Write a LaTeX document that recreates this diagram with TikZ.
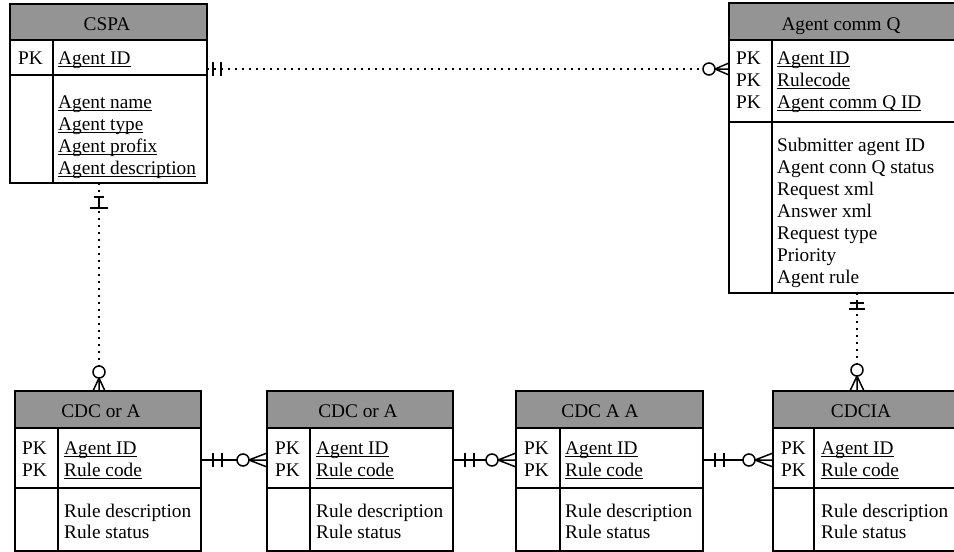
\documentclass[tikz,border=0pt]{standalone}
\usepackage{fontspec}
\setmainfont{Liberation Serif}
\usetikzlibrary{calc}

% underline sitting just under the baseline
\newcommand\ulx[1]{\setbox0\hbox{#1}\rlap{\rule[-2.6pt]{\wd0}{0.9pt}}\box0}

% entity table: name, x1, y1, x2, y2, header bottom, key-row bottom, divider x
\newcommand\erbox[8]{%
  \node[boxshape, anchor=north west, minimum width={#4-#2}, minimum height={#5-#3}] (#1) at (#2,#3) {};
  \fill[hdrfill] (#1.north west) rectangle (#4,#6);
  \draw[frame] (#2,#6) -- (#4,#6) (#2,#7) -- (#4,#7) (#8,#6) -- (#8,#5);
  \draw[frame] (#1.north west) rectangle (#1.south east);
}

% solid one-to-many link between two side-by-side tables
\newcommand\sidelink[2]{%
  \draw[link] (#1) -- ($(#2)+(-30,0)$);
  \draw[link] ($(#1)+(12,-7)$) -- ($(#1)+(12,7)$) ($(#1)+(21,-7)$) -- ($(#1)+(21,7)$);
  \draw[ring] ($(#2)+(-24,0)$) circle (6);
  \draw[link] ($(#2)+(-18,0)$) -- (#2) ($(#2)+(-18,0)$) -- ($(#2)+(0,-7)$) ($(#2)+(-18,0)$) -- ($(#2)+(0,7)$);
}

\begin{document}
\begin{tikzpicture}[x=1pt,y=-1pt,
  frame/.style={line width=1.8pt},
  hdrfill/.style={fill=black!42},
  boxshape/.style={rectangle, inner sep=0pt, outer sep=0pt},
  lbl/.style={font=\fontsize{19.3}{22}\selectfont, inner sep=0pt, anchor=base west},
  title/.style={lbl, anchor=base},
  link/.style={line width=1.5pt},
  dotlink/.style={line width=1.8pt, dash pattern=on 1.8pt off 5.2pt},
  ring/.style={line width=1.5pt, fill=white},
]
\useasboundingbox (0,0) rectangle (954,552);

% ---------- tables ----------
\erbox{cspa}{10}{4}{207}{183}{40}{75}{53}
\erbox{acq}{729}{3}{957}{293}{40}{122}{772}
\erbox{cdcA}{15}{391}{201}{551}{428}{488}{58}
\erbox{cdcB}{267}{391}{453}{551}{428}{488}{310}
\erbox{cdcC}{516}{391}{703}{551}{428}{488}{560}
\erbox{cdcD}{773}{391}{960}{551}{428}{488}{814}

% CSPA
\node[title] (cspaT) at (107,30) {CSPA};
\node[lbl] (cspaK) at (18,64) {PK};
\node[lbl] (cspa1) at (58,64) {\ulx{Agent ID}};
\node[lbl] (cspa2) at (58,108) {\ulx{Agent name}};
\node[lbl] (cspa3) at (58,130) {\ulx{Agent type}};
\node[lbl] (cspa4) at (58,152) {\ulx{Agent profix}};
\node[lbl] (cspa5) at (58,174) {\ulx{Agent description}};

% Agent comm Q
\node[title] (acqT) at (841,30) {Agent comm Q};
\node[lbl] (acqK1) at (736,64) {PK};
\node[lbl] (acqK2) at (736,86) {PK};
\node[lbl] (acqK3) at (736,108) {PK};
\node[lbl] (acq1) at (777,64) {\ulx{Agent ID}};
\node[lbl] (acq2) at (777,86) {\ulx{Rulecode}};
\node[lbl] (acq3) at (777,108) {\ulx{Agent comm Q ID}};
\node[lbl] (acq4) at (777,151) {Submitter agent ID};
\node[lbl] (acq5) at (777,173) {Agent conn Q status};
\node[lbl] (acq6) at (777,195) {Request xml};
\node[lbl] (acq7) at (777,217) {Answer xml};
\node[lbl] (acq8) at (777,239) {Request type};
\node[lbl] (acq9) at (777,261) {Priority};
\node[lbl] (acq10) at (777,283) {Agent rule};

% lower row of tables
\foreach \n/\t/\cx/\kx/\vx in {cdcA/CDC or A/101/22/64, cdcB/CDC or A/358/275/316, cdcC/CDC A A/600/524/565, cdcD/CDCIA/861/781/821}{
  \node[title] (\n T) at (\cx,417) {\t};
  \node[lbl] (\n K1) at (\kx,454) {PK};
  \node[lbl] (\n K2) at (\kx,476) {PK};
  \node[lbl] (\n 1) at (\vx,454) {\ulx{Agent ID}};
  \node[lbl] (\n 2) at (\vx,476) {\ulx{Rule code}};
  \node[lbl] (\n 3) at (\vx,517) {Rule description};
  \node[lbl] (\n 4) at (\vx,538) {Rule status};
}

% ---------- relationships ----------
% CSPA -- Agent comm Q
\coordinate (p1) at (cspa.east |- 0,69);
\coordinate (q1) at (acq.west |- 0,69);
\draw[dotlink] (p1) -- ($(q1)+(-26,0)$);
\draw[link] ($(p1)+(6,-7)$) -- ($(p1)+(6,7)$) ($(p1)+(14,-7)$) -- ($(p1)+(14,7)$);
\draw[ring] ($(q1)+(-20,0)$) circle (6);
\draw[link] ($(q1)+(-14,0)$) -- (q1) ($(q1)+(-14,0)$) -- ($(q1)+(0,-6)$) ($(q1)+(-14,0)$) -- ($(q1)+(0,6)$);

% CSPA -- CDC or A
\coordinate (p2) at (cspa.south -| 99,0);
\coordinate (q2) at (cdcA.north -| 99,0);
\draw[dotlink] (p2) -- ($(q2)+(0,-25)$);
\draw[link] ($(p2)+(0,14)$) -- ($(p2)+(0,25)$);
\draw[link] ($(p2)+(-5,14)$) -- ($(p2)+(5,14)$) ($(p2)+(-9,25)$) -- ($(p2)+(9,25)$);
\draw[ring] ($(q2)+(0,-19)$) circle (6);
\draw[link] ($(q2)+(0,-13)$) -- (q2) ($(q2)+(0,-13)$) -- ($(q2)+(-6,0)$) ($(q2)+(0,-13)$) -- ($(q2)+(6,0)$);

% Agent comm Q -- CDCIA
\coordinate (p3) at (acq.south -| 857,0);
\coordinate (q3) at (cdcD.north -| 857,0);
\draw[dotlink] (p3) -- ($(q3)+(0,-27)$);
\draw[link] ($(p3)+(0,10)$) -- ($(p3)+(0,16)$);
\draw[link] ($(p3)+(-7,10)$) -- ($(p3)+(7,10)$) ($(p3)+(-8,16)$) -- ($(p3)+(8,16)$);
\draw[ring] ($(q3)+(0,-21)$) circle (6);
\draw[link] ($(q3)+(0,-15)$) -- (q3) ($(q3)+(0,-15)$) -- ($(q3)+(-7,0)$) ($(q3)+(0,-15)$) -- ($(q3)+(7,0)$);

% lower row links
\coordinate (a1) at (cdcA.east |- 0,460);
\coordinate (b1) at (cdcB.west |- 0,460);
\coordinate (a2) at (cdcB.east |- 0,460);
\coordinate (b2) at (cdcC.west |- 0,460);
\coordinate (a3) at (cdcC.east |- 0,460);
\coordinate (b3) at (cdcD.west |- 0,460);
\sidelink{a1}{b1}
\sidelink{a2}{b2}
\sidelink{a3}{b3}
\end{tikzpicture}
\end{document}
